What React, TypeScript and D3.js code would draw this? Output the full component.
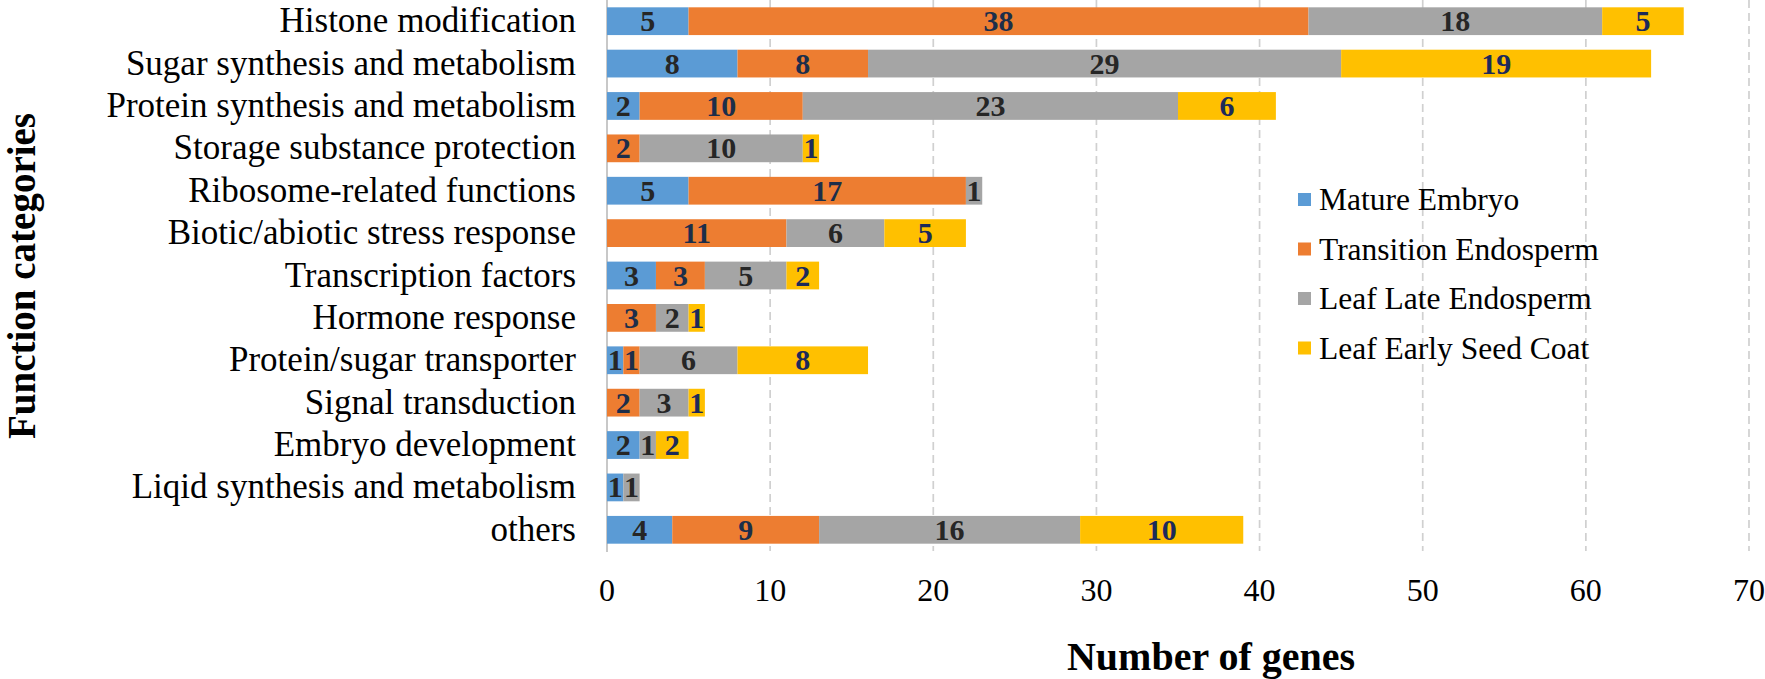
import React from "react";
import * as d3 from "d3";

const categories = [
  "Histone modification",
  "Sugar synthesis and metabolism",
  "Protein synthesis and metabolism",
  "Storage substance protection",
  "Ribosome-related functions",
  "Biotic/abiotic stress response",
  "Transcription factors",
  "Hormone response",
  "Protein/sugar transporter",
  "Signal transduction",
  "Embryo development",
  "Liqid synthesis and metabolism",
  "others",
];

const seriesNames = [
  "Mature Embryo",
  "Transition Endosperm",
  "Leaf Late Endosperm",
  "Leaf Early Seed Coat",
];

const matureEmbryo = [5, 8, 2, 0, 5, 0, 3, 0, 1, 0, 2, 1, 4];
const transitionEndosperm = [38, 8, 10, 2, 17, 11, 3, 3, 1, 2, 0, 0, 9];
const leafLateEndosperm = [18, 29, 23, 10, 1, 6, 5, 2, 6, 3, 1, 1, 16];
const leafEarlySeedCoat = [5, 19, 6, 1, 0, 5, 2, 1, 8, 1, 2, 0, 10];

const xTicks = [0, 10, 20, 30, 40, 50, 60, 70];

const colors = ["#5B9BD5", "#ED7D31", "#A5A5A5", "#FFC000"];
const labelColors = ["#262626", "#1c2e4a", "#262626", "#1c2a5a"];

const W = 1765;
const H = 679;
const FONT = "'Liberation Serif', 'Times New Roman', serif";

export default function App() {
  const seriesValues = [matureEmbryo, transitionEndosperm, leafLateEndosperm, leafEarlySeedCoat];
  const rows = categories.map((c, i) => {
    const o: any = { cat: c };
    seriesNames.forEach((s, k) => (o[s] = seriesValues[k][i]));
    return o;
  });
  const stacked = d3.stack().keys(seriesNames)(rows);

  const x = d3.scaleLinear().domain([0, 70]).range([607, 1749]);
  const y = d3
    .scaleBand<string>()
    .domain(categories)
    .range([0, 551])
    .paddingInner(0.345)
    .paddingOuter(0.1725);
  const bw = y.bandwidth();

  return (
    <svg
      width={W}
      height={H}
      style={{ position: "absolute", left: 0, top: 0, background: "#fff" }}
      fontFamily={FONT}
    >
      <rect x={0} y={0} width={W} height={H} fill="#fff" />
      {/* gridlines */}
      {xTicks.filter((t) => t > 0).map((t) => (
        <line
          key={"g" + t}
          x1={x(t)}
          x2={x(t)}
          y1={0}
          y2={551}
          stroke="#d0d0d0"
          strokeWidth={1.7}
          strokeDasharray="8,5"
        />
      ))}
      {/* axis line */}
      <line x1={x(0)} x2={x(0)} y1={0} y2={552} stroke="#c8c8c8" strokeWidth={2} />

      {/* bars */}
      {stacked.map((layer, k) => (
        <g key={layer.key}>
          {layer.map((d, i) => {
            const v = d[1] - d[0];
            if (v <= 0) return null;
            return (
              <rect
                key={i}
                x={x(d[0])}
                y={y(categories[i])!}
                width={x(d[1]) - x(d[0])}
                height={bw}
                fill={colors[k]}
              />
            );
          })}
        </g>
      ))}
      {/* bar labels */}
      {stacked.map((layer, k) => (
        <g key={"l" + layer.key}>
          {layer.map((d, i) => {
            const v = d[1] - d[0];
            if (v <= 0) return null;
            return (
              <text
                key={i}
                x={(x(d[0]) + x(d[1])) / 2}
                y={y(categories[i])! + bw / 2 + 10}
                textAnchor="middle"
                fontSize={30}
                fontWeight="bold"
                fill={labelColors[k]}
              >
                {v}
              </text>
            );
          })}
        </g>
      ))}

      {/* category labels */}
      {categories.map((c) => (
        <text
          key={c}
          x={576}
          y={y(c)! + bw / 2 + 11}
          textAnchor="end"
          fontSize={35}
          fill="#000"
        >
          {c}
        </text>
      ))}

      {/* x tick labels */}
      {xTicks.map((t) => (
        <text key={"t" + t} x={x(t)} y={601} textAnchor="middle" fontSize={32} fill="#000">
          {t}
        </text>
      ))}

      {/* axis titles */}
      <text x={1211} y={670} textAnchor="middle" fontSize={40} fontWeight="bold" fill="#000">
        Number of genes
      </text>
      <text
        transform={`translate(35, 276) rotate(-90)`}
        textAnchor="middle"
        fontSize={39}
        fontWeight="bold"
        fill="#000"
      >
        Function categories
      </text>

      {/* legend */}
      {seriesNames.map((s, k) => {
        const base = 210 + k * 49.5;
        return (
          <g key={"lg" + s}>
            <rect x={1298} y={base - 17} width={13} height={13} fill={colors[k]} />
            <text x={1319} y={base} fontSize={31.5} fill="#000">
              {s}
            </text>
          </g>
        );
      })}
    </svg>
  );
}
